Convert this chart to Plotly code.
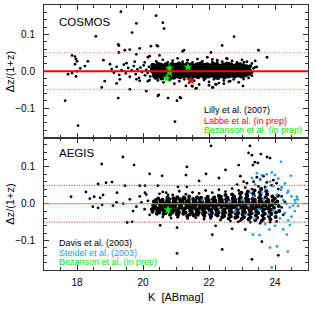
import plotly.graph_objects as go

# ---------------- data (K [ABmag], dz/(1+z)) ----------------
cosmos_core = [
(20.31,0.010),(20.33,-0.004),(20.28,0.002),(20.35,-0.012),(20.30,0.016),
(20.42,0.006),(20.38,-0.008),(20.44,0.013),(20.41,-0.001),(20.39,-0.016),(20.45,0.019),
(20.52,0.002),(20.48,0.011),(20.55,-0.007),(20.50,-0.013),(20.53,0.017),(20.47,-0.002),
(20.61,0.008),(20.63,-0.004),(20.58,0.014),(20.60,-0.011),(20.65,0.001),(20.57,-0.018),
(20.72,0.004),(20.68,-0.008),(20.71,0.012),(20.74,-0.015),(20.69,0.018),(20.73,-0.001),
(20.81,0.009),(20.79,-0.005),(20.83,0.015),(20.78,-0.012),(20.84,0.002),(20.80,-0.019),
(20.92,0.006),(20.88,-0.003),(20.91,0.013),(20.94,-0.010),(20.89,0.019),(20.93,-0.016),
(21.01,0.001),(20.98,0.010),(21.03,-0.007),(21.00,0.016),(21.04,-0.013),(20.97,0.004),
(21.12,0.008),(21.08,-0.002),(21.11,0.014),(21.14,-0.009),(21.09,0.020),(21.13,-0.015),
(21.21,0.003),(21.18,0.011),(21.23,-0.006),(21.20,0.017),(21.24,-0.012),(21.19,-0.001),
(21.31,0.007),(21.28,-0.004),(21.33,0.013),(21.30,-0.011),(21.34,0.019),(21.27,0.000),
(21.42,0.002),(21.38,0.010),(21.41,-0.008),(21.44,0.016),(21.39,-0.014),(21.43,0.005),
(21.51,0.009),(21.48,-0.003),(21.53,0.015),(21.50,-0.010),(21.54,0.001),(21.47,-0.017),
(21.62,0.004),(21.58,0.012),(21.61,-0.006),(21.64,0.018),(21.59,-0.012),(21.63,-0.001),
(21.71,0.008),(21.68,-0.002),(21.73,0.014),(21.70,-0.009),(21.74,0.020),(21.67,-0.015),
(21.82,0.003),(21.78,0.011),(21.81,-0.005),(21.84,0.016),(21.79,-0.011),(21.83,0.006),
(21.91,0.007),(21.88,-0.003),(21.93,0.013),(21.90,-0.010),(21.94,0.018),(21.87,-0.016),
(22.02,0.002),(21.98,0.009),(22.01,-0.007),(22.04,0.015),(21.99,-0.013),(22.03,-0.001),
(22.11,0.006),(22.08,-0.004),(22.13,0.012),(22.10,-0.011),(22.14,0.019),(22.07,0.000),
(22.22,0.003),(22.18,0.010),(22.21,-0.008),(22.24,0.016),(22.19,-0.014),(22.23,0.005),
(22.31,0.008),(22.28,-0.002),(22.33,0.014),(22.30,-0.010),(22.34,0.001),(22.27,-0.017),
(22.42,0.004),(22.38,0.011),(22.41,-0.006),(22.44,0.017),(22.39,-0.012),(22.43,-0.001),
(22.51,0.007),(22.48,-0.003),(22.53,0.013),(22.50,-0.009),(22.54,0.019),(22.47,-0.015),
(22.62,0.002),(22.58,0.010),(22.61,-0.007),(22.64,0.015),(22.59,-0.013),(22.63,0.005),
(22.71,0.008),(22.68,-0.004),(22.73,0.013),(22.70,-0.011),(22.74,0.000),(22.67,0.018),
(22.82,0.003),(22.78,0.011),(22.81,-0.006),(22.84,0.016),(22.79,-0.012),
(22.91,0.006),(22.88,-0.003),(22.93,0.012),(22.90,-0.010),(22.94,0.018),
(23.02,0.002),(22.98,0.009),(23.01,-0.007),(23.04,0.014),(22.99,-0.013),
(23.11,0.005),(23.08,-0.004),(23.13,0.012),(23.10,-0.010),
(23.22,0.003),(23.18,0.010),(23.21,-0.006),
]
cosmos_scatter = [
(19.05,0.006),(19.12,-0.004),(19.20,0.012),(19.28,-0.010),(19.35,0.003),(19.42,0.018),
(19.48,-0.006),(19.55,0.009),(19.60,-0.015),(19.66,0.002),(19.72,0.014),(19.78,-0.008),
(19.83,0.005),(19.88,-0.018),(19.92,0.010),(19.97,-0.002),(20.02,0.016),(20.06,-0.011),
(20.10,0.004),(20.14,-0.005),(20.18,0.012),(20.22,-0.014),(20.25,0.007),(20.05,0.024),
(19.75,0.026),(19.50,0.022),(19.30,-0.022),(19.90,-0.026),(20.20,-0.024),
(20.40,0.027),(20.60,0.031),(20.75,0.024),(20.90,0.029),(21.05,0.035),(21.20,0.026),
(21.35,0.030),(21.50,0.024),(21.65,0.033),(21.80,0.027),(21.95,0.038),(22.10,0.025),
(22.25,0.030),(22.40,0.026),(22.55,0.034),(22.70,0.028),(22.85,0.024),(23.00,0.031),
(23.15,0.026),(23.30,0.021),(23.40,0.028),(23.25,0.015),(23.35,0.008),(23.30,-0.004),
(23.45,0.012),
(20.45,-0.025),(20.62,-0.030),(20.80,-0.024),(20.95,-0.034),(21.10,-0.027),(21.25,-0.022),
(21.40,-0.031),(21.55,-0.026),(21.70,-0.036),(21.85,-0.024),(22.00,-0.029),(22.15,-0.022),
(22.30,-0.032),(22.45,-0.025),(22.60,-0.028),(22.75,-0.022),(22.90,-0.030),(23.05,-0.021),
(23.20,-0.018),(23.30,-0.012),(21.48,-0.040),(21.62,-0.046),(22.12,-0.044),(22.22,-0.036),
(22.45,-0.034),(22.00,-0.038),
]
cosmos_outliers = [
(19.33,0.162),(20.40,0.151),(19.80,0.130),(19.67,0.105),(18.57,0.095),(19.25,0.073),
(19.45,0.057),(19.60,0.059),(19.27,0.051),(17.94,0.040),(18.00,0.027),(18.33,0.027),
(18.80,0.030),(19.00,0.019),(17.73,-0.008),(17.85,-0.005),(18.00,0.000),(18.10,0.008),
(17.97,-0.014),(18.24,0.014),(18.75,-0.044),(19.60,-0.049),(19.25,-0.073),(17.64,-0.080),
(18.03,-0.148),(20.15,0.038),(20.15,-0.027),(19.80,-0.022),(20.10,-0.054),(20.60,0.132),
(20.64,0.116),(20.45,0.068),(21.24,0.057),(22.76,0.094),(23.50,0.057),(22.10,0.032),
(22.25,0.024),(20.45,-0.067),(20.76,-0.073),(21.12,-0.071),(20.97,-0.137),(21.50,-0.041),
(21.60,-0.047),(22.10,-0.044),(22.20,-0.035),(19.27,0.070),(19.90,0.062),(20.24,0.068),
(20.42,0.070),(19.80,0.046),(20.20,0.041),(20.50,0.043),(17.85,0.043),(17.97,0.033),
(17.94,0.019),(18.84,-0.027),(19.20,-0.033),(20.48,-0.064),(21.03,-0.080),(22.40,0.070),
(22.06,0.051),(21.20,0.054),(23.76,0.038),(22.53,0.035),(22.60,0.021),(23.06,0.024),
(23.27,0.013),(23.40,0.011),(23.03,-0.040),(22.64,-0.027),(21.30,-0.040),(21.15,-0.073),
(22.46,-0.016),
]
cosmos_labbe = [(21.45,-0.025)]
cosmos_bezanson = [(20.80,0.008),(20.80,-0.003),(20.72,-0.019),(21.36,0.011)]

aegis_core = [
(20.31,-0.004),(20.27,-0.015),(20.33,0.006),(20.29,-0.022),(20.32,-0.010),
(20.41,0.002),(20.37,-0.008),(20.43,-0.019),(20.39,0.010),(20.42,-0.027),(20.36,-0.013),
(20.51,-0.002),(20.47,-0.012),(20.53,0.007),(20.49,-0.024),(20.52,-0.017),(20.46,0.014),(20.54,-0.006),
(20.61,0.004),(20.57,-0.009),(20.63,-0.020),(20.59,0.011),(20.62,-0.028),(20.56,-0.014),(20.64,-0.001),
(20.71,-0.005),(20.67,-0.016),(20.73,0.008),(20.69,-0.025),(20.72,0.001),(20.66,-0.011),(20.74,0.016),
(20.81,0.002),(20.77,-0.010),(20.83,-0.021),(20.79,0.012),(20.82,-0.030),(20.76,-0.004),(20.84,-0.015),
(20.91,-0.003),(20.87,-0.013),(20.93,0.006),(20.89,-0.024),(20.92,0.015),(20.86,-0.008),(20.94,-0.019),
(21.01,0.001),(20.97,-0.009),(21.03,-0.018),(20.99,0.010),(21.02,-0.028),(20.96,-0.004),(21.04,0.018),
(21.11,-0.006),(21.07,-0.014),(21.13,0.004),(21.09,-0.023),(21.12,0.012),(21.06,-0.031),(21.14,-0.001),
(21.21,0.003),(21.17,-0.011),(21.23,-0.020),(21.19,0.009),(21.22,-0.027),(21.16,-0.005),(21.24,0.017),
(21.31,-0.002),(21.27,-0.013),(21.33,0.006),(21.29,-0.024),(21.32,-0.008),(21.26,0.014),(21.34,-0.033),
(21.41,0.001),(21.37,-0.010),(21.43,-0.019),(21.39,0.010),(21.42,-0.029),(21.36,-0.004),(21.44,-0.014),(21.40,0.020),
(21.51,-0.004),(21.47,-0.015),(21.53,0.005),(21.49,-0.024),(21.52,0.013),(21.46,-0.009),(21.54,-0.032),
(21.61,0.002),(21.57,-0.008),(21.63,-0.018),(21.59,0.009),(21.62,-0.027),(21.56,-0.012),(21.64,0.018),(21.60,-0.002),
(21.71,-0.005),(21.67,-0.014),(21.73,0.004),(21.69,-0.023),(21.72,0.012),(21.66,-0.030),(21.74,-0.009),
(21.81,0.000),(21.77,-0.011),(21.83,-0.020),(21.79,0.008),(21.82,-0.028),(21.76,0.016),(21.84,-0.005),(21.80,-0.015),
(21.91,-0.003),(21.87,-0.013),(21.93,0.006),(21.89,-0.024),(21.92,0.014),(21.86,-0.033),(21.94,-0.008),
(22.01,0.002),(21.97,-0.009),(22.03,-0.018),(21.99,0.010),(22.02,-0.027),(21.96,0.019),(22.04,-0.004),(22.00,-0.014),
(22.11,-0.006),(22.07,-0.016),(22.13,0.004),(22.09,-0.025),(22.12,0.012),(22.06,-0.034),(22.14,-0.001),
(22.21,0.001),(22.17,-0.010),(22.23,-0.020),(22.19,0.009),(22.22,-0.029),(22.16,0.017),(22.24,-0.005),(22.20,-0.014),
(22.31,-0.003),(22.27,-0.013),(22.33,0.006),(22.29,-0.023),(22.32,0.014),(22.26,-0.032),(22.34,-0.008),(22.30,0.022),
(22.41,0.002),(22.37,-0.009),(22.43,-0.018),(22.39,0.010),(22.42,-0.027),(22.36,0.019),(22.44,-0.004),(22.40,-0.037),
(22.51,-0.005),(22.47,-0.015),(22.53,0.004),(22.49,-0.024),(22.52,0.012),(22.46,-0.033),(22.54,-0.001),(22.50,0.024),
(22.61,0.001),(22.57,-0.011),(22.63,-0.020),(22.59,0.008),(22.62,-0.029),(22.56,0.016),(22.64,-0.006),(22.60,-0.040),
(22.71,-0.002),(22.67,-0.013),(22.73,0.006),(22.69,-0.023),(22.72,0.014),(22.66,-0.034),(22.74,-0.008),(22.70,0.025),
(22.81,0.003),(22.77,-0.009),(22.83,-0.019),(22.79,0.011),(22.82,-0.028),(22.76,0.020),(22.84,-0.004),(22.80,-0.038),
(22.91,-0.004),(22.87,-0.015),(22.93,0.005),(22.89,-0.025),(22.92,0.013),(22.86,-0.035),(22.94,0.027),(22.90,-0.010),
(23.01,0.001),(22.97,-0.011),(23.03,-0.021),(22.99,0.009),(23.02,-0.030),(22.96,0.018),(23.04,-0.006),(23.00,-0.041),(22.98,0.030),
(23.11,-0.003),(23.07,-0.014),(23.13,0.006),(23.09,-0.024),(23.12,0.015),(23.06,-0.036),(23.14,0.026),(23.10,-0.009),
(23.21,0.002),(23.17,-0.010),(23.23,-0.019),(23.19,0.011),(23.22,-0.029),(23.16,0.021),(23.24,-0.005),(23.20,-0.042),(23.18,0.033),
(23.31,-0.005),(23.27,-0.016),(23.33,0.004),(23.29,-0.026),(23.32,0.013),(23.26,-0.037),(23.34,0.028),(23.30,-0.011),
(23.41,0.001),(23.37,-0.012),(23.43,-0.021),(23.39,0.010),(23.42,-0.031),(23.36,0.022),(23.44,-0.006),(23.40,-0.044),(23.38,0.036),
(23.51,-0.002),(23.47,-0.014),(23.53,0.007),(23.49,-0.025),(23.52,0.016),(23.46,-0.038),(23.54,0.031),(23.50,-0.009),
(23.61,0.003),(23.57,-0.010),(23.63,-0.020),(23.59,0.012),(23.62,-0.032),(23.56,0.024),(23.64,-0.005),(23.60,-0.046),(23.58,0.040),
(23.71,-0.004),(23.67,-0.015),(23.73,0.005),(23.69,-0.027),(23.72,0.018),(23.66,-0.040),(23.74,0.034),
(23.81,0.002),(23.77,-0.012),(23.83,-0.022),(23.79,0.010),(23.82,-0.034),(23.76,0.026),(23.84,-0.006),
(23.91,-0.003),(23.87,-0.016),(23.93,0.008),(23.89,-0.028),(23.92,0.020),(23.86,-0.042),
(24.01,0.001),(23.97,-0.011),(24.03,-0.024),(23.99,0.014),(24.02,-0.036),
(24.11,-0.006),(24.07,0.006),(24.13,-0.020),(24.09,0.022),
]
aegis_scatter = [
(19.60,0.012),(19.80,-0.008),(19.95,0.004),(20.05,-0.015),(20.15,0.008),(20.20,-0.030),
(19.70,-0.020),(19.40,0.000),(19.20,0.004),(19.90,0.020),(20.10,0.025),
(20.50,0.027),(20.70,0.030),(20.90,0.024),(21.10,0.034),(21.30,0.026),(21.50,0.031),
(21.70,0.028),(21.90,0.036),(22.10,0.030),(22.30,0.038),(22.50,0.033),(22.70,0.041),
(22.90,0.036),(23.10,0.044),(23.30,0.040),(23.50,0.047),(23.70,0.045),(23.90,0.050),
(24.10,0.040),(24.20,0.020),(24.30,0.005),(24.20,-0.010),(24.25,-0.030),
(20.60,-0.036),(20.85,-0.039),(21.05,-0.037),(21.35,-0.040),(21.60,-0.038),(21.85,-0.042),
(22.05,-0.040),(22.35,-0.044),(22.65,-0.047),(22.95,-0.046),(23.25,-0.050),(23.55,-0.053),
(23.85,-0.050),(24.05,-0.048),(23.35,0.060),(23.55,0.066),(23.75,0.058),(23.95,0.064),
(23.15,0.056),(23.65,0.075),(23.45,0.072),(22.85,0.052),(23.05,0.060),(24.05,0.056),
]
aegis_outliers = [
(19.39,0.127),(18.75,0.108),(19.73,0.105),(20.20,0.081),(18.64,0.054),(18.88,0.057),
(19.06,0.059),(19.45,0.049),(18.27,0.032),(18.39,0.014),(18.52,0.019),(17.82,0.019),
(18.70,0.016),(18.79,0.024),(18.48,-0.008),(18.64,-0.011),(18.76,-0.003),(19.21,0.030),
(19.09,-0.005),(20.58,0.076),(21.30,0.078),(21.33,0.100),(19.90,0.049),(20.06,0.049),
(20.45,0.049),(21.06,0.046),(21.33,0.046),(20.06,0.030),(20.60,0.032),(20.76,0.024),
(21.03,-0.065),(20.52,-0.059),(19.67,-0.049),(19.52,-0.051),(23.20,0.138),(23.30,0.132),
(23.57,0.135),(23.76,0.127),(23.39,0.113),(22.90,0.105),(23.33,0.105),(23.48,0.111),
(22.50,0.092),(21.91,0.081),(23.60,-0.103),(24.10,-0.140),(23.30,-0.151),(22.40,-0.124),
(21.03,-0.135),(22.10,-0.084),(22.70,-0.068),(22.88,-0.049),(22.06,0.157),(23.24,0.157),
(23.85,0.124),(22.30,0.070),(21.70,0.062),(22.95,0.075),(22.20,-0.060),(23.10,-0.070),
]
aegis_steidel = [
(24.18,0.114),(23.45,0.083),(23.60,0.078),(23.75,0.080),(23.90,0.085),(24.00,0.078),
(23.30,0.070),(23.55,0.065),(23.85,0.060),(24.10,0.068),(24.30,0.055),(24.20,0.045),
(23.95,0.048),(23.40,0.052),(23.70,0.040),(24.40,0.035),(24.50,0.020),(24.60,0.010),
(24.55,-0.005),(24.45,-0.010),(24.35,0.000),(24.60,-0.020),(24.70,-0.006),(24.50,-0.035),
(24.30,-0.025),(24.15,-0.040),(23.95,-0.020),(23.80,-0.030),(23.65,0.012),(23.50,-0.015),
(23.35,0.020),(23.20,-0.005),(23.00,0.010),(22.80,-0.020),(22.60,0.005),(22.30,-0.010),
(22.00,-0.025),(21.80,0.010),(23.10,-0.030),(23.40,-0.040),(23.70,-0.055),(24.00,-0.060),
(24.25,-0.070),(24.36,-0.084),(23.83,-0.070),(23.53,-0.085),(23.33,-0.084),(23.85,-0.119),
(24.06,-0.116),(24.39,-0.130),(23.90,-0.173),(24.48,0.076),(24.66,0.019),(24.68,0.012),
(24.38,0.030),(24.18,0.038),(24.62,0.002),(24.40,-0.045),(24.45,-0.058),(23.60,0.030),
(24.05,0.025),(24.25,0.010),(23.25,0.030),(22.90,-0.010),
]
aegis_bezanson = [(20.76,-0.016)]

ref_lines = [0.0, 0.05, -0.05]
k_range = [17, 25]
dz_range = [-0.18, 0.18]


def split(pts):
    return [p[0] for p in pts], [p[1] for p in pts]


FONT = "Liberation Sans"
AX = "#333333"

fig = go.Figure()


def add_pts(pts, color, size, xa, ya, symbol="circle"):
    k, dz = split(pts)
    fig.add_trace(go.Scatter(
        x=k, y=dz, mode="markers", xaxis=xa, yaxis=ya, showlegend=False, hoverinfo="skip",
        marker=dict(color=color, size=size, symbol=symbol, line=dict(width=0))))


# top panel: COSMOS
add_pts(cosmos_outliers + cosmos_scatter, "black", 2.8, "x", "y")
add_pts(cosmos_core, "black", 5.0, "x", "y")
add_pts(cosmos_bezanson, "#00ee00", 7, "x", "y", "star")
add_pts(cosmos_labbe, "#ff0000", 7, "x", "y", "star")
# bottom panel: AEGIS
add_pts(aegis_outliers + aegis_scatter, "black", 2.8, "x2", "y2")
add_pts(aegis_core, "black", 4.0, "x2", "y2")
add_pts(aegis_steidel, "#1ea0f0", 2.8, "x2", "y2")
add_pts(aegis_bezanson, "#00ee00", 7, "x2", "y2", "star")

shapes = []
for xr, yr, zc, zw, dc in [("x", "y", "#ff0000", 1.8, "#ff6060"), ("x2", "y2", "#ff7070", 1.2, "#ee2020")]:
    for v in ref_lines:
        if v == 0.0:
            line = dict(color=zc, width=zw)
        else:
            line = dict(color=dc, width=1, dash="1px,1.5px")
        shapes.append(dict(type="line", xref=xr, yref=yr, x0=k_range[0], x1=k_range[1],
                           y0=v, y1=v, line=line, layer="above"))

axis_common = dict(range=k_range, showline=True, linecolor=AX, linewidth=1, mirror="ticks",
                   ticks="inside", ticklen=5, tickcolor=AX, tickwidth=1, showgrid=False,
                   zeroline=False, tick0=18, dtick=2,
                   minor=dict(dtick=0.5, ticklen=3, ticks="inside", tickcolor=AX, showgrid=False))
yaxis_common = dict(range=dz_range, showline=True, linecolor=AX, linewidth=1, mirror="ticks",
                    ticks="inside", ticklen=5, tickcolor=AX, tickwidth=1, showgrid=False,
                    zeroline=False, tick0=0, dtick=0.1, tickformat=".1f",
                    tickfont=dict(family=FONT, size=10, color="black"), ticklabelstandoff=6,
                    minor=dict(dtick=0.02, ticklen=3, ticks="inside", tickcolor=AX, showgrid=False))

fig.update_layout(
    width=315, height=315, margin=dict(l=44, r=7, t=5, b=45),
    paper_bgcolor="white", plot_bgcolor="white",
    font=dict(family=FONT, color="black"),
    xaxis=dict(axis_common, anchor="y", showticklabels=False),
    yaxis=dict(yaxis_common, domain=[0.5, 1.0], anchor="x"),
    xaxis2=dict(axis_common, anchor="y2", showticklabels=True,
                tickfont=dict(family=FONT, size=10, color="black"), ticklabelstandoff=3),
    yaxis2=dict(yaxis_common, domain=[0.0, 0.5], anchor="x2"),
    shapes=shapes,
)

ann = [
    ("COSMOS", "x domain", "y domain", 0.05, 0.875, "black", 11.5),
    ("AEGIS", "x2 domain", "y2 domain", 0.05, 0.886, "black", 11.5),
    ("Lilly et al. (2007)", "x domain", "y domain", 0.60, 0.21, "black", 9),
    ("Labbe et al. (in prep)", "x domain", "y domain", 0.60, 0.128, "#ff0000", 9),
    ("Bezanson et al. (in prep)", "x domain", "y domain", 0.60, 0.053, "#00ee00", 9),
    ("Davis et al. (2003)", "x2 domain", "y2 domain", 0.05, 0.205, "black", 9),
    ("Steidel et al. (2003)", "x2 domain", "y2 domain", 0.05, 0.129, "#1ea0f0", 9),
    ("Bezanson et al. (in prep)", "x2 domain", "y2 domain", 0.05, 0.06, "#00ee00", 9),
]
for text, xr, yr, ax_, ay_, col, sz in ann:
    fig.add_annotation(text=text, xref=xr, yref=yr, x=ax_, y=ay_, xanchor="left",
                       yanchor="middle", showarrow=False,
                       font=dict(family=FONT, size=sz, color=col))

# axis titles
for yc in (0.75, 0.25):
    fig.add_annotation(text="Δz/(1+z)", xref="paper", yref="paper", x=-0.129, y=yc,
                       xanchor="center", yanchor="middle", textangle=-90, showarrow=False,
                       font=dict(family=FONT, size=11, color="black"))
fig.add_annotation(text="K  [ABmag]", xref="paper", yref="paper", x=0.5, y=-0.102,
                   xanchor="center", yanchor="middle", showarrow=False,
                   font=dict(family=FONT, size=11, color="black"))

fig.write_html("out.html", config={"displayModeBar": False},
               post_script="document.body.style.margin='0';")
